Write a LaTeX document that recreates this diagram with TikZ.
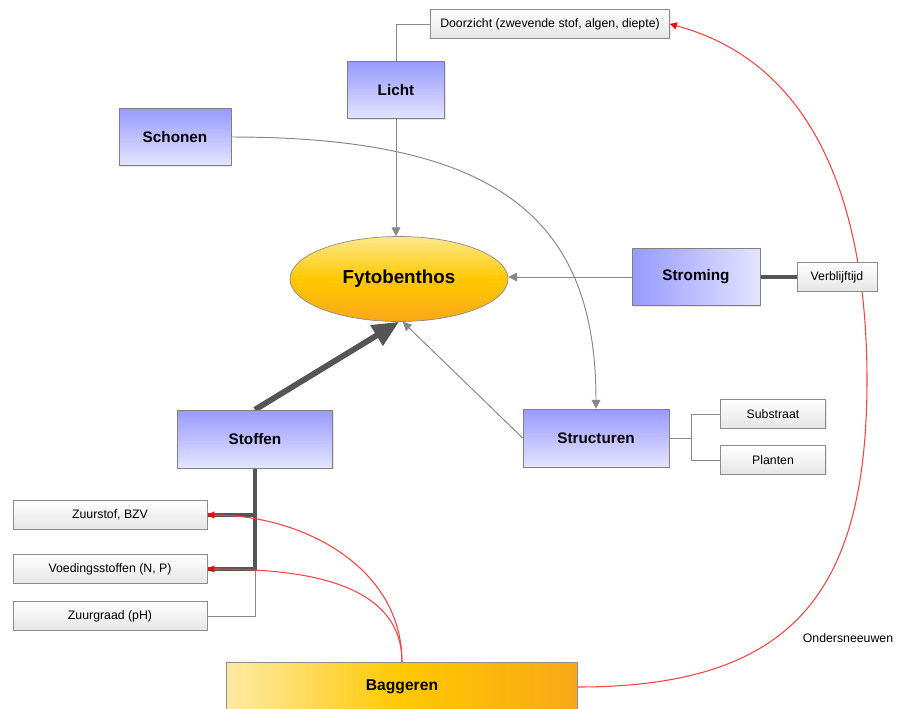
\documentclass[tikz,border=0pt]{standalone}
\usepackage{fontspec}
\setmainfont{Liberation Sans}
\usetikzlibrary{shapes.geometric, arrows.meta, shadows, backgrounds}
\definecolor{boxblue}{RGB}{152,154,255}
\definecolor{boxbluelight}{RGB}{228,228,255}
\definecolor{sunlight}{RGB}{255,232,140}
\definecolor{sun}{RGB}{255,200,0}
\definecolor{sundark}{RGB}{248,168,24}
\definecolor{dredge}{RGB}{255,234,165}
\definecolor{linkgray}{RGB}{135,135,135}
\definecolor{heavygray}{RGB}{85,85,85}
\tikzset{
    factor/.style={rectangle, draw=black!50, top color=boxblue, bottom color=boxbluelight, minimum height=1.14cm, inner sep=0pt, font=\fontsize{8.7}{10}\selectfont\bfseries, drop shadow={opacity=0.2, shadow xshift=0.7pt, shadow yshift=-0.7pt}},
    item/.style={rectangle, draw=black!45, top color=white, bottom color=black!10, minimum height=0.57cm, inner sep=0pt, font=\fontsize{7}{8}\selectfont, drop shadow={opacity=0.2, shadow xshift=0.7pt, shadow yshift=-0.7pt}},
    target/.style={ellipse, draw=black!45, top color=sunlight, bottom color=sundark, middle color=sun, minimum width=4.36cm, minimum height=1.7cm, inner sep=0pt, font=\fontsize{10.7}{12}\selectfont\bfseries},
    measure/.style={rectangle, draw=black!45, left color=dredge, right color=sundark, middle color=sun, minimum width=7.02cm, minimum height=0.98cm, inner sep=0pt, font=\fontsize{8.9}{10}\selectfont\bfseries},
    link/.style={draw=linkgray, line width=0.55pt},
    arrow/.style={link, -{Triangle[length=5pt,width=5pt]}},
    heavy/.style={draw=heavygray, line width=2.8pt},
    heavyarrow/.style={draw=heavygray, line width=3.3pt, -{Triangle[length=15pt,width=13pt]}},
    effect/.style={draw=red!75, line width=0.6pt, -{Triangle[length=4pt,width=4pt,color=red]}}
}

\begin{document}
\begin{tikzpicture}[>=Stealth, x=0.02cm, y=-0.02cm]
    \useasboundingbox (0,0) rectangle (904,708);
    \node[item, minimum width=4.78cm] (doorzicht) at (550,24) {Doorzicht (zwevende stof, algen, diepte)};
    \node[factor, minimum width=1.94cm] (licht) at (396,90) {Licht};
    \node[factor, minimum width=2.24cm] (schonen) at (175,137) {Schonen};
    \node[target] (fyto) at (399,279) {Fytobenthos};
    \node[factor, minimum width=2.56cm, left color=boxblue, right color=boxbluelight] (stroming) at (696,277) {Stroming};
    \node[item, minimum width=1.6cm] (verblijf) at (837,277) {Verblijftijd};
    \node[factor, minimum width=3.1cm, minimum height=1.16cm] (stoffen) at (255,439) {Stoffen};
    \node[factor, minimum width=2.92cm, minimum height=1.16cm] (structuren) at (596,438) {Structuren};
    \node[item, minimum width=2.1cm] (substraat) at (773,414) {Substraat};
    \node[item, minimum width=2.1cm] (planten) at (773,460) {Planten};
    \node[item, minimum width=3.88cm] (zuurstof) at (110,515) {Zuurstof, BZV};
    \node[item, minimum width=3.88cm] (voeding) at (110,569) {Voedingsstoffen (N, P)};
    \node[item, minimum width=3.88cm] (zuurgraad) at (110,616) {Zuurgraad (pH)};
    \node[measure] (baggeren) at (402,687) {Baggeren};
    \node[font=\fontsize{7}{8}\selectfont] (onder) at (848,638) {Ondersneeuwen};

    \begin{pgfonlayer}{background}
        \draw[link] (licht.north) |- (doorzicht.west);
        \draw[arrow] (licht.south) -- (licht.south |- fyto.north);
        \draw[arrow] (schonen.east) .. controls (500,137) and (596,220) .. (structuren.north);
        \draw[arrow] (stroming.west) -- (fyto.east |- stroming.west);
        \draw[heavy] (stroming.east) -- (verblijf.west);
        \draw[heavyarrow] (stoffen.north) -- (fyto.south);
        \draw[arrow] (structuren.west) -- (fyto.-85);
        \draw[link] (structuren.east) -- ++(22,0) |- (substraat.west);
        \draw[link] (structuren.east) -- ++(22,0) |- (planten.west);
        \draw[link] (stoffen.south |- voeding.east) |- (zuurgraad.east);
        \draw[heavy] (stoffen.south) |- (voeding.east);
        \draw[heavy] (stoffen.south |- zuurstof.east) -- (zuurstof.east);
        \draw[effect] (baggeren.north) to[out=90, in=0] (zuurstof.east);
        \draw[effect] (baggeren.north) to[out=90, in=0] (voeding.east);
        \draw[effect] (baggeren.east) to[out=0, in=-90, looseness=1.3] (867,380) to[out=90, in=-15] (doorzicht.east);
    \end{pgfonlayer}
\end{tikzpicture}
\end{document}
